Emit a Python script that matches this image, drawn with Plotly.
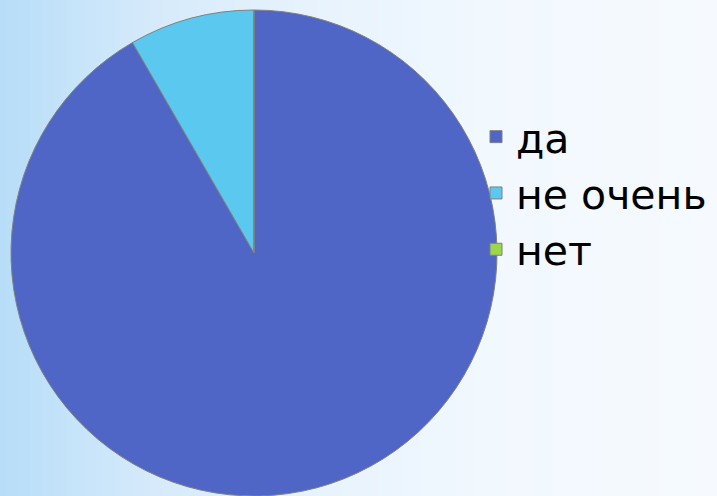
import plotly.graph_objects as go

labels = ["да", "не очень", "нет"]
values = [11, 1, 0]
colors = ["#4F66C6", "#5BC9EF", "#9CD64A"]

W, H = 717, 496

fig = go.Figure()
fig.add_trace(go.Pie(
    labels=labels,
    values=values,
    marker=dict(colors=colors, line=dict(color="#808080", width=1)),
    sort=False,
    direction="clockwise",
    rotation=0,
    textinfo="none",
    hoverinfo="label+value",
    domain=dict(x=[11 / W, 497 / W], y=[0, 486 / H]),
))

# background gradient (light blue on left fading to near white on right)
stops = [(0, (183, 221, 248)), (150, (213, 234, 251)), (300, (230, 242, 253)),
         (480, (241, 248, 254)), (717, (246, 250, 254))]
def col_at(x):
    for (x0, c0), (x1, c1) in zip(stops[:-1], stops[1:]):
        if x0 <= x <= x1:
            t = (x - x0) / (x1 - x0)
            return "rgb(%d,%d,%d)" % tuple(round(a + (b - a) * t) for a, b in zip(c0, c1))
    return "rgb(%d,%d,%d)" % stops[-1][1]

shapes = []
step = 6
for x in range(0, W, step):
    shapes.append(dict(type="rect", xref="paper", yref="paper",
                       x0=x / W, x1=min(x + step + 1, W) / W, y0=0, y1=1,
                       fillcolor=col_at(x + step / 2), line=dict(width=0), layer="below"))

fig.update_layout(
    width=W, height=H,
    margin=dict(l=0, r=0, t=0, b=0),
    paper_bgcolor="#EEF6FD",
    plot_bgcolor="rgba(0,0,0,0)",
    shapes=shapes,
    showlegend=True,
    legend=dict(
        x=476 / W, xanchor="left",
        y=1 - 193 / H, yanchor="middle",
        font=dict(family="DejaVu Sans", size=41, color="#000000"),
        bgcolor="rgba(0,0,0,0)",
        itemclick=False, itemdoubleclick=False,
    ),
)

fig.write_html("out.html", config={"displayModeBar": False},
               post_script="document.body.style.margin='0';document.body.style.overflow='hidden';")
